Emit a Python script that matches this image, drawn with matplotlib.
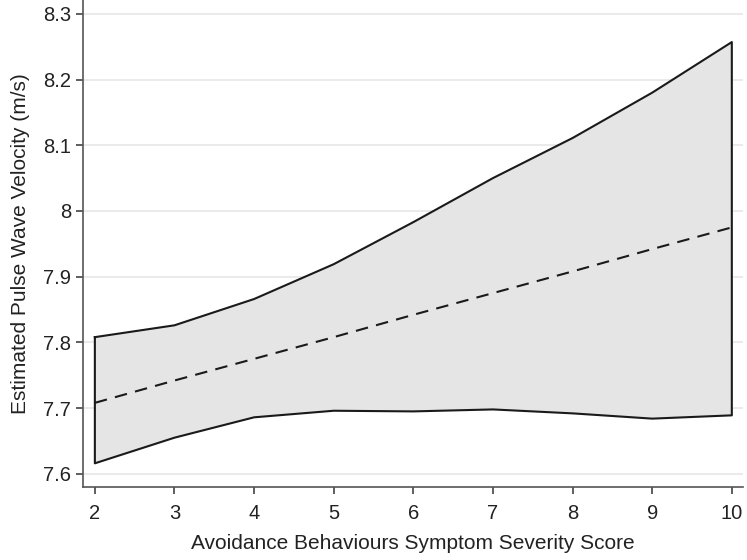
import matplotlib
matplotlib.use("Agg")
import matplotlib.pyplot as plt
import numpy as np

plt.rcParams['font.family'] = ['Liberation Sans', 'DejaVu Sans']

score = [2, 3, 4, 5, 6, 7, 8, 9, 10]
pwv_mean = [7.708, 7.742, 7.775, 7.808, 7.842, 7.875, 7.908, 7.942, 7.975]
pwv_upper = [7.808, 7.826, 7.866, 7.919, 7.983, 8.050, 8.111, 8.180, 8.257]
pwv_lower = [7.616, 7.655, 7.686, 7.696, 7.695, 7.698, 7.692, 7.684, 7.689]
y_ticks = [7.6, 7.7, 7.8, 7.9, 8.0, 8.1, 8.2, 8.3]
y_tick_labels = ["7.6", "7.7", "7.8", "7.9", "8", "8.1", "8.2", "8.3"]

fig = plt.figure(figsize=(7.47, 5.6), dpi=100)
ax = fig.add_axes([0.111, 0.1304, 0.8836, 0.8696])

ax.set_axisbelow(True)
ax.yaxis.grid(True, color='#e6e6e6', linewidth=1.2)

ax.fill_between(score, pwv_lower, pwv_upper, facecolor='#e5e5e5', edgecolor='none', zorder=2)

# Closed outline of the confidence band
band_x = list(score) + list(score[::-1]) + [score[0]]
band_y = list(pwv_upper) + list(pwv_lower[::-1]) + [pwv_upper[0]]
ax.plot(band_x, band_y, color='#1a1a1a', linewidth=1.5, zorder=3)

ax.plot(score, pwv_mean, color='#1a1a1a', linewidth=1.5, linestyle=(0, (6, 4)), zorder=3)

ax.set_xlim(1.85, 10.14)
ax.set_ylim(7.58, 8.321)
ax.set_xticks(score)
ax.set_yticks(y_ticks)
ax.set_yticklabels(y_tick_labels)

for side in ('top', 'right'):
    ax.spines[side].set_visible(False)
for side in ('left', 'bottom'):
    ax.spines[side].set_color('#555555')
    ax.spines[side].set_linewidth(1.2)

ax.tick_params(axis='both', direction='out', length=5, width=1.1, color='#333333',
               labelsize=14.5, labelcolor='#222222')
ax.tick_params(axis='x', pad=7)

ax.set_xlabel('Avoidance Behaviours Symptom Severity Score', fontsize=15, color='#222222', labelpad=8)
ax.set_ylabel('Estimated Pulse Wave Velocity (m/s)', fontsize=15, color='#222222', labelpad=9)

fig.savefig('out.png', dpi=100)
